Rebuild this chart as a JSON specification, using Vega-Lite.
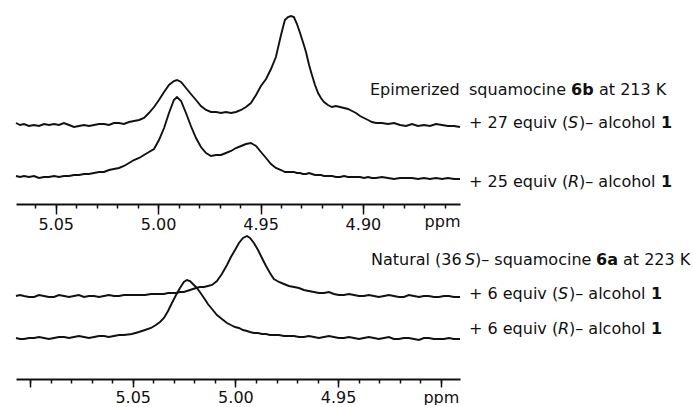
{
  "$schema": "https://vega.github.io/schema/vega-lite/v6.json",
  "padding": {"left": 12, "top": 0, "right": 0, "bottom": 0},
  "spacing": 26,
  "bounds": "flush",
  "config": {
    "view": {"stroke": null},
    "font": "DejaVu Sans",
    "axis": {"labelOverlap": false, "labelBound": false, "grid": false, "tickColor": "#111", "tickWidth": 1.5, "domainColor": "#111", "domainWidth": 1.8},
    "line": {"color": "#111", "strokeWidth": 1.9},
    "text": {"font": "DejaVu Sans", "fontSize": 16, "color": "#111", "baseline": "alphabetic", "align": "left"}
  },
  "vconcat": [
    {
      "width": 444,
      "height": 204,
      "resolve": {"axis": {"x": "independent"}},
      "data": {"values": [
        {"ppm":5.0694,"S":81,"R":28},{"ppm":5.0674,"S":79,"R":27},{"ppm":5.0655,"S":80,"R":28},{"ppm":5.0631,"S":78,"R":27},
        {"ppm":5.0606,"S":79,"R":28},{"ppm":5.0582,"S":78,"R":26},{"ppm":5.0557,"S":80,"R":27},{"ppm":5.0533,"S":79,"R":27},
        {"ppm":5.0508,"S":80,"R":28},{"ppm":5.0484,"S":79,"R":27},{"ppm":5.0460,"S":81,"R":28},{"ppm":5.0435,"S":79,"R":28},
        {"ppm":5.0411,"S":77,"R":29},{"ppm":5.0386,"S":78,"R":29},{"ppm":5.0362,"S":79,"R":30},{"ppm":5.0338,"S":78,"R":30},
        {"ppm":5.0313,"S":79,"R":31},{"ppm":5.0289,"S":80,"R":32},{"ppm":5.0264,"S":80,"R":32},{"ppm":5.0240,"S":79,"R":34},
        {"ppm":5.0216,"S":81,"R":35},{"ppm":5.0191,"S":81,"R":36},{"ppm":5.0167,"S":80,"R":38},{"ppm":5.0142,"S":82,"R":41},
        {"ppm":5.0118,"S":83,"R":44},{"ppm":5.0093,"S":84,"R":46},{"ppm":5.0069,"S":86,"R":49},{"ppm":5.0045,"S":91,"R":52},
        {"ppm":5.0020,"S":97,"R":55},{"ppm":4.9996,"S":104,"R":64},{"ppm":4.9971,"S":112,"R":76},{"ppm":4.9947,"S":119,"R":91},
        {"ppm":4.9923,"S":123,"R":104},{"ppm":4.9908,"S":124,"R":107},{"ppm":4.9888,"S":122,"R":103},{"ppm":4.9864,"S":116,"R":91},
        {"ppm":4.9840,"S":110,"R":78},{"ppm":4.9815,"S":104,"R":66},{"ppm":4.9791,"S":98,"R":57},{"ppm":4.9766,"S":94,"R":51},
        {"ppm":4.9742,"S":92,"R":48},{"ppm":4.9717,"S":92,"R":49},{"ppm":4.9693,"S":91,"R":49},{"ppm":4.9669,"S":92,"R":51},
        {"ppm":4.9644,"S":91,"R":53},{"ppm":4.9620,"S":92,"R":56},{"ppm":4.9595,"S":94,"R":58},{"ppm":4.9571,"S":97,"R":60},
        {"ppm":4.9547,"S":101,"R":61},{"ppm":4.9522,"S":109,"R":58},{"ppm":4.9498,"S":118,"R":52},{"ppm":4.9473,"S":125,"R":46},
        {"ppm":4.9449,"S":135,"R":40},{"ppm":4.9425,"S":147,"R":36},{"ppm":4.9400,"S":169,"R":34},{"ppm":4.9381,"S":184,"R":32},
        {"ppm":4.9366,"S":187,"R":32},{"ppm":4.9351,"S":188,"R":32},{"ppm":4.9337,"S":187,"R":32},{"ppm":4.9322,"S":180,"R":31},
        {"ppm":4.9307,"S":171,"R":31},{"ppm":4.9293,"S":162,"R":30},{"ppm":4.9278,"S":152,"R":30},{"ppm":4.9263,"S":139,"R":31},
        {"ppm":4.9249,"S":129,"R":30},{"ppm":4.9234,"S":119,"R":29},{"ppm":4.9219,"S":111,"R":29},{"ppm":4.9205,"S":106,"R":29},
        {"ppm":4.9190,"S":102,"R":28},{"ppm":4.9171,"S":99,"R":28},{"ppm":4.9151,"S":97,"R":28},{"ppm":4.9132,"S":98,"R":27},
        {"ppm":4.9112,"S":97,"R":27},{"ppm":4.9092,"S":96,"R":28},{"ppm":4.9073,"S":95,"R":27},{"ppm":4.9053,"S":93,"R":27},
        {"ppm":4.9034,"S":91,"R":27},{"ppm":4.9014,"S":88,"R":27},{"ppm":4.8995,"S":86,"R":26},{"ppm":4.8975,"S":84,"R":27},
        {"ppm":4.8956,"S":82,"R":26},{"ppm":4.8936,"S":81,"R":26},{"ppm":4.8907,"S":81,"R":27},{"ppm":4.8878,"S":80,"R":26},
        {"ppm":4.8848,"S":81,"R":25},{"ppm":4.8819,"S":79,"R":26},{"ppm":4.8790,"S":78,"R":26},{"ppm":4.8760,"S":80,"R":26},
        {"ppm":4.8731,"S":78,"R":25},{"ppm":4.8702,"S":79,"R":26},{"ppm":4.8673,"S":78,"R":25},{"ppm":4.8643,"S":80,"R":26},
        {"ppm":4.8614,"S":79,"R":25},{"ppm":4.8585,"S":78,"R":26},{"ppm":4.8555,"S":78,"R":25},{"ppm":4.8526,"S":77,"R":25}
      ]},
      "layer": [
        {
          "mark": {"type": "line"},
          "encoding": {
            "x": {
              "field": "ppm", "type": "quantitative",
              "scale": {"domain": [4.8526, 5.0694], "reverse": true, "nice": false, "zero": false},
              "axis": {
                "orient": "bottom",
                "values": [5.05, 5.0, 4.95, 4.9],
                "format": ".2f",
                "tickSize": 10,
                "labelFont": "DejaVu Sans", "labelFontSize": 16, "labelColor": "#111", "labelPadding": 2, "labelFlush": false,
                "title": "ppm", "titleFont": "DejaVu Sans", "titleFontSize": 16, "titleFontWeight": "normal", "titleColor": "#111",
                "titleAnchor": "end", "titleAlign": "right", "titleBaseline": "alphabetic", "titleX": 444, "titleY": 22
              }
            },
            "y": {"field": "S", "type": "quantitative", "scale": {"domain": [0, 204], "nice": false, "zero": false}, "axis": null}
          }
        },
        {
          "mark": {"type": "line"},
          "encoding": {
            "x": {
              "field": "ppm", "type": "quantitative",
              "axis": {
                "orient": "bottom",
                "values": [5.06,5.05,5.04,5.03,5.02,5.01,5.0,4.99,4.98,4.97,4.96,4.95,4.94,4.93,4.92,4.91,4.9,4.89,4.88,4.87,4.86],
                "tickSize": 4, "labels": false, "domain": false, "title": null
              }
            },
            "y": {"field": "R", "type": "quantitative", "axis": null}
          }
        },
        {
          "data": {"values": [{"label": "Epimerized", "level": 109}]},
          "mark": {"type": "text", "dx": -90},
          "encoding": {"x": {"datum": 4.8526, "type": "quantitative", "axis": null}, "y": {"field": "level", "type": "quantitative", "axis": null}, "text": {"field": "label"}}
        },
        {
          "data": {"values": [{"label": "squamocine", "level": 109}]},
          "mark": {"type": "text", "dx": 9},
          "encoding": {"x": {"datum": 4.8526, "type": "quantitative", "axis": null}, "y": {"field": "level", "type": "quantitative", "axis": null}, "text": {"field": "label"}}
        },
        {
          "data": {"values": [{"label": "6b", "level": 109}]},
          "mark": {"type": "text", "dx": 111, "fontWeight": "bold"},
          "encoding": {"x": {"datum": 4.8526, "type": "quantitative", "axis": null}, "y": {"field": "level", "type": "quantitative", "axis": null}, "text": {"field": "label"}}
        },
        {
          "data": {"values": [{"label": "at 213 K", "level": 109}]},
          "mark": {"type": "text", "dx": 139},
          "encoding": {"x": {"datum": 4.8526, "type": "quantitative", "axis": null}, "y": {"field": "level", "type": "quantitative", "axis": null}, "text": {"field": "label"}}
        },
        {
          "data": {"values": [{"label": "+ 27 equiv  (", "level": 76}, {"label": "+ 25 equiv  (", "level": 17}]},
          "mark": {"type": "text", "dx": 9},
          "encoding": {"x": {"datum": 4.8526, "type": "quantitative", "axis": null}, "y": {"field": "level", "type": "quantitative", "axis": null}, "text": {"field": "label"}}
        },
        {
          "data": {"values": [{"label": "S", "level": 76}, {"label": "R", "level": 17}]},
          "mark": {"type": "text", "dx": 108, "fontStyle": "italic"},
          "encoding": {"x": {"datum": 4.8526, "type": "quantitative", "axis": null}, "y": {"field": "level", "type": "quantitative", "axis": null}, "text": {"field": "label"}}
        },
        {
          "data": {"values": [{"label": ")– alcohol", "level": 76}, {"label": ")– alcohol", "level": 17}]},
          "mark": {"type": "text", "dx": 119},
          "encoding": {"x": {"datum": 4.8526, "type": "quantitative", "axis": null}, "y": {"field": "level", "type": "quantitative", "axis": null}, "text": {"field": "label"}}
        },
        {
          "data": {"values": [{"label": "1", "level": 76}, {"label": "1", "level": 17}]},
          "mark": {"type": "text", "dx": 201, "fontWeight": "bold"},
          "encoding": {"x": {"datum": 4.8526, "type": "quantitative", "axis": null}, "y": {"field": "level", "type": "quantitative", "axis": null}, "text": {"field": "label"}}
        }
      ]
    },
    {
      "width": 444,
      "height": 149,
      "resolve": {"axis": {"x": "independent"}},
      "data": {"values": [
        {"ppm":5.1068,"S":83,"R":41},{"ppm":5.1049,"S":84,"R":40},{"ppm":5.1029,"S":83,"R":40},{"ppm":5.1005,"S":82,"R":41},
        {"ppm":5.0980,"S":82,"R":41},{"ppm":5.0956,"S":84,"R":42},{"ppm":5.0932,"S":83,"R":41},{"ppm":5.0908,"S":82,"R":40},
        {"ppm":5.0883,"S":82,"R":41},{"ppm":5.0859,"S":84,"R":42},{"ppm":5.0834,"S":83,"R":42},{"ppm":5.0810,"S":82,"R":41},
        {"ppm":5.0786,"S":83,"R":42},{"ppm":5.0762,"S":84,"R":43},{"ppm":5.0737,"S":82,"R":42},{"ppm":5.0713,"S":83,"R":41},
        {"ppm":5.0688,"S":83,"R":42},{"ppm":5.0664,"S":82,"R":43},{"ppm":5.0640,"S":83,"R":43},{"ppm":5.0616,"S":84,"R":42},
        {"ppm":5.0591,"S":83,"R":43},{"ppm":5.0567,"S":83,"R":44},{"ppm":5.0543,"S":84,"R":44},
        {"ppm":5.0504,"S":84,"R":45},{"ppm":5.0470,"S":84,"R":47},{"ppm":5.0440,"S":84,"R":49},{"ppm":5.0411,"S":85,"R":51},
        {"ppm":5.0387,"S":85,"R":54},{"ppm":5.0367,"S":85,"R":57},{"ppm":5.0348,"S":85,"R":61},{"ppm":5.0328,"S":86,"R":68},
        {"ppm":5.0309,"S":86,"R":76},{"ppm":5.0289,"S":86,"R":84},{"ppm":5.0270,"S":87,"R":91},{"ppm":5.0251,"S":87,"R":97},
        {"ppm":5.0236,"S":88,"R":99},{"ppm":5.0221,"S":89,"R":98},{"ppm":5.0207,"S":90,"R":95},{"ppm":5.0192,"S":91,"R":92},
        {"ppm":5.0173,"S":92,"R":87},{"ppm":5.0153,"S":92,"R":81},{"ppm":5.0134,"S":93,"R":75},{"ppm":5.0114,"S":94,"R":70},
        {"ppm":5.0090,"S":98,"R":64},{"ppm":5.0066,"S":105,"R":60},{"ppm":5.0041,"S":114,"R":56},{"ppm":5.0022,"S":122,"R":54},
        {"ppm":5.0002,"S":129,"R":52},{"ppm":4.9983,"S":136,"R":51},{"ppm":4.9963,"S":141,"R":49},{"ppm":4.9944,"S":143,"R":48},
        {"ppm":4.9929,"S":141,"R":47},{"ppm":4.9910,"S":136,"R":46},{"ppm":4.9890,"S":129,"R":46},{"ppm":4.9871,"S":121,"R":45},
        {"ppm":4.9851,"S":113,"R":45},{"ppm":4.9832,"S":106,"R":44},{"ppm":4.9813,"S":100,"R":44},{"ppm":4.9788,"S":97,"R":44},
        {"ppm":4.9764,"S":95,"R":43},{"ppm":4.9740,"S":93,"R":43},{"ppm":4.9715,"S":92,"R":43},{"ppm":4.9691,"S":91,"R":42},
        {"ppm":4.9667,"S":89,"R":42},{"ppm":4.9643,"S":88,"R":43},{"ppm":4.9618,"S":87,"R":42},{"ppm":4.9594,"S":86,"R":41},
        {"ppm":4.9569,"S":86,"R":42},{"ppm":4.9545,"S":87,"R":43},{"ppm":4.9521,"S":85,"R":42},{"ppm":4.9497,"S":84,"R":41},
        {"ppm":4.9472,"S":84,"R":41},{"ppm":4.9448,"S":85,"R":42},{"ppm":4.9423,"S":84,"R":41},{"ppm":4.9399,"S":83,"R":40},
        {"ppm":4.9375,"S":83,"R":41},{"ppm":4.9351,"S":84,"R":42},{"ppm":4.9326,"S":83,"R":41},{"ppm":4.9302,"S":82,"R":40},
        {"ppm":4.9277,"S":83,"R":41},{"ppm":4.9253,"S":84,"R":42},{"ppm":4.9229,"S":83,"R":40},{"ppm":4.9205,"S":82,"R":40},
        {"ppm":4.9180,"S":82,"R":41},{"ppm":4.9156,"S":84,"R":41},{"ppm":4.9131,"S":83,"R":40},{"ppm":4.9107,"S":82,"R":39},
        {"ppm":4.9083,"S":83,"R":41},{"ppm":4.9059,"S":83,"R":41},{"ppm":4.9034,"S":82,"R":40},{"ppm":4.9010,"S":82,"R":40},
        {"ppm":4.8985,"S":83,"R":40},{"ppm":4.8961,"S":83,"R":41},{"ppm":4.8937,"S":82,"R":40},{"ppm":4.8907,"S":82,"R":40}
      ]},
      "layer": [
        {
          "mark": {"type": "line"},
          "encoding": {
            "x": {
              "field": "ppm", "type": "quantitative",
              "scale": {"domain": [4.8907, 5.1068], "reverse": true, "nice": false, "zero": false},
              "axis": {
                "orient": "bottom",
                "values": [5.1, 5.05, 5.0, 4.95, 4.9],
                "tickSize": 8,
                "labelExpr": "datum.value < 4.91 ? 'ppm' : (datum.value > 5.09 ? '' : format(datum.value, '.2f'))",
                "labelFont": "DejaVu Sans", "labelFontSize": 16, "labelColor": "#111", "labelPadding": 2, "labelFlush": false,
                "title": null
              }
            },
            "y": {"field": "S", "type": "quantitative", "scale": {"domain": [0, 149], "nice": false, "zero": false}, "axis": null}
          }
        },
        {
          "mark": {"type": "line"},
          "encoding": {
            "x": {
              "field": "ppm", "type": "quantitative",
              "axis": {
                "orient": "bottom",
                "values": [5.1,5.09,5.08,5.07,5.06,5.05,5.04,5.03,5.02,5.01,5.0,4.99,4.98,4.97,4.96,4.95,4.94,4.93,4.92,4.91,4.9],
                "tickSize": 4, "labels": false, "domain": false, "title": null
              }
            },
            "y": {"field": "R", "type": "quantitative", "axis": null}
          }
        },
        {
          "data": {"values": [{"label": "Natural (36", "level": 114}]},
          "mark": {"type": "text", "dx": -89},
          "encoding": {"x": {"datum": 4.8907, "type": "quantitative", "axis": null}, "y": {"field": "level", "type": "quantitative", "axis": null}, "text": {"field": "label"}}
        },
        {
          "data": {"values": [{"label": "S", "level": 114}]},
          "mark": {"type": "text", "dx": 5, "fontStyle": "italic"},
          "encoding": {"x": {"datum": 4.8907, "type": "quantitative", "axis": null}, "y": {"field": "level", "type": "quantitative", "axis": null}, "text": {"field": "label"}}
        },
        {
          "data": {"values": [{"label": ")– squamocine", "level": 114}]},
          "mark": {"type": "text", "dx": 15},
          "encoding": {"x": {"datum": 4.8907, "type": "quantitative", "axis": null}, "y": {"field": "level", "type": "quantitative", "axis": null}, "text": {"field": "label"}}
        },
        {
          "data": {"values": [{"label": "6a", "level": 114}]},
          "mark": {"type": "text", "dx": 136, "fontWeight": "bold"},
          "encoding": {"x": {"datum": 4.8907, "type": "quantitative", "axis": null}, "y": {"field": "level", "type": "quantitative", "axis": null}, "text": {"field": "label"}}
        },
        {
          "data": {"values": [{"label": "at 223 K", "level": 114}]},
          "mark": {"type": "text", "dx": 163},
          "encoding": {"x": {"datum": 4.8907, "type": "quantitative", "axis": null}, "y": {"field": "level", "type": "quantitative", "axis": null}, "text": {"field": "label"}}
        },
        {
          "data": {"values": [{"label": "+ 6 equiv  (", "level": 80}, {"label": "+ 6 equiv  (", "level": 45}]},
          "mark": {"type": "text", "dx": 9},
          "encoding": {"x": {"datum": 4.8907, "type": "quantitative", "axis": null}, "y": {"field": "level", "type": "quantitative", "axis": null}, "text": {"field": "label"}}
        },
        {
          "data": {"values": [{"label": "S", "level": 80}, {"label": "R", "level": 45}]},
          "mark": {"type": "text", "dx": 98, "fontStyle": "italic"},
          "encoding": {"x": {"datum": 4.8907, "type": "quantitative", "axis": null}, "y": {"field": "level", "type": "quantitative", "axis": null}, "text": {"field": "label"}}
        },
        {
          "data": {"values": [{"label": ")– alcohol", "level": 80}, {"label": ")– alcohol", "level": 45}]},
          "mark": {"type": "text", "dx": 109},
          "encoding": {"x": {"datum": 4.8907, "type": "quantitative", "axis": null}, "y": {"field": "level", "type": "quantitative", "axis": null}, "text": {"field": "label"}}
        },
        {
          "data": {"values": [{"label": "1", "level": 80}, {"label": "1", "level": 45}]},
          "mark": {"type": "text", "dx": 191, "fontWeight": "bold"},
          "encoding": {"x": {"datum": 4.8907, "type": "quantitative", "axis": null}, "y": {"field": "level", "type": "quantitative", "axis": null}, "text": {"field": "label"}}
        }
      ]
    }
  ]
}
